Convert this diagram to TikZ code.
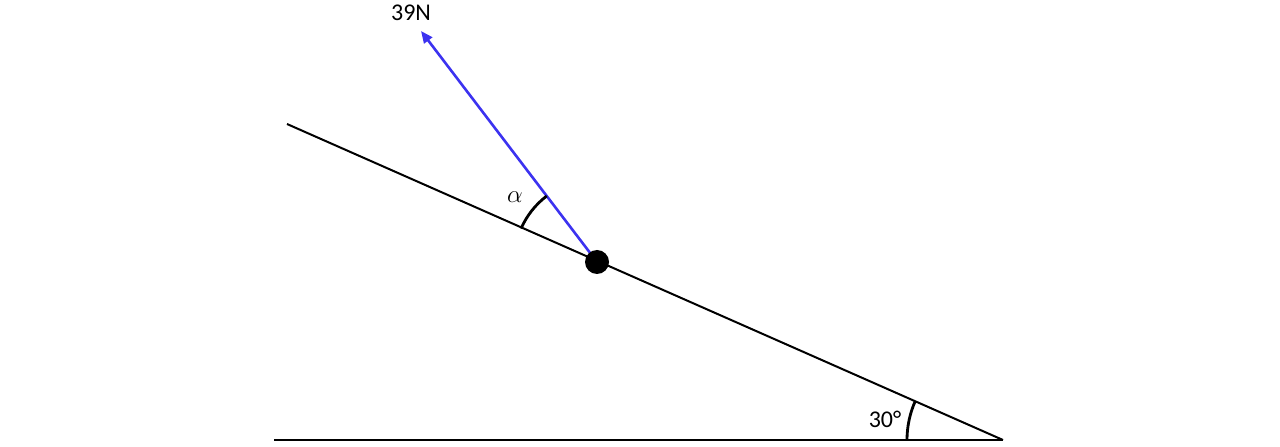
\documentclass[tikz,border=0pt]{standalone}
\usepackage{fontspec}
\setmainfont{Carlito}
\usetikzlibrary{arrows.meta,calc}
\tikzset{
  blk/.style={line width=2pt, black},
  arcstyle/.style={line width=2.8pt, black},
  force/.style={line width=2.6pt, color={rgb,255:red,60;green,50;blue,240}, -{Triangle[length=12pt,width=10pt]}},
  lbl/.style={font=\fontsize{24}{28}\selectfont, inner sep=0pt}
}
\begin{document}
\begin{tikzpicture}[x=1pt,y=1pt]
\useasboundingbox (0,0) rectangle (1280,447);
\coordinate (L) at (274,7);
\coordinate (R) at (1003,7);
\coordinate (T) at (287,323);
\coordinate (B) at (597,185);
\coordinate (F) at (421,416);
\draw[blk] (L) -- (R);
\draw[blk] (R) -- (T);
\draw[force] (B) -- (F);
\fill (B) circle (12);
% alpha arc
\draw[arcstyle] ($(B)+(156.2:83)$) arc[start angle=156.2, end angle=127.3, radius=83];
% 30 arc
\draw[arcstyle] ($(R)+(180:96)$) arc[start angle=180, end angle=156.2, radius=96];
\node[lbl] (n39) at (411,434) {39N};
\node[lbl] (alpha) at (515,250) {$\alpha$};
\node[lbl] (thirty) at (885,28) {30°};
\end{tikzpicture}
\end{document}
